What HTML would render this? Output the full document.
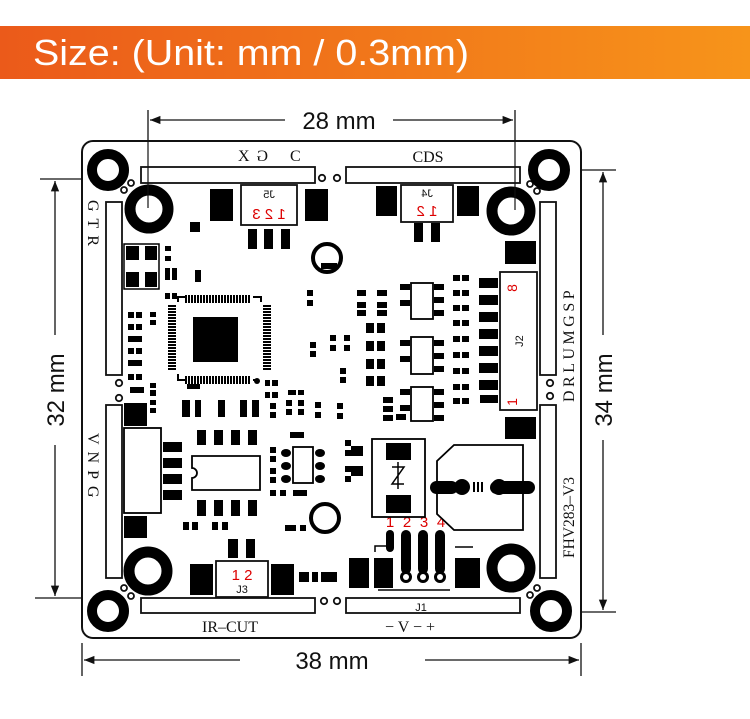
<!DOCTYPE html>
<html><head><meta charset="utf-8"><style>
html,body{margin:0;padding:0;background:#fff;}
svg{display:block}
</style></head><body>
<svg width="750" height="719" viewBox="0 0 750 719" xmlns="http://www.w3.org/2000/svg">
<defs>
<linearGradient id="g" x1="0" x2="1" y1="0" y2="0"><stop offset="0" stop-color="#eb5a1a"/><stop offset="1" stop-color="#f7941a"/></linearGradient>
<marker id="ar" viewBox="0 0 10 10" refX="10" refY="5" markerWidth="8" markerHeight="8" orient="auto-start-reverse"><path d="M0,1 L10,5 L0,9 z" fill="#111"/></marker>
</defs>
<rect x="0" y="26" width="750" height="53" fill="url(#g)"/>
<text x="33" y="65" font-family="Liberation Sans, sans-serif" font-size="36" fill="#fff" textLength="436" lengthAdjust="spacingAndGlyphs">Size: (Unit: mm / 0.3mm)</text>

<g stroke="#111" stroke-width="1.3" fill="none">
<line x1="148" y1="110" x2="148" y2="208"/><line x1="515" y1="110" x2="515" y2="208"/>
<line x1="150" y1="120" x2="285" y2="120" marker-start="url(#ar)"/>
<line x1="393" y1="120" x2="513" y2="120" marker-end="url(#ar)"/>
<line x1="82" y1="643" x2="82" y2="676"/><line x1="581" y1="643" x2="581" y2="676"/>
<line x1="84" y1="660" x2="240" y2="660" marker-start="url(#ar)"/>
<line x1="425" y1="660" x2="579" y2="660" marker-end="url(#ar)"/>
<line x1="40" y1="179" x2="128" y2="179"/><line x1="35" y1="598" x2="130" y2="598"/>
<line x1="55" y1="181" x2="55" y2="335" marker-start="url(#ar)"/>
<line x1="55" y1="445" x2="55" y2="596" marker-end="url(#ar)"/>
<line x1="550" y1="170" x2="616" y2="170"/><line x1="552" y1="612" x2="616" y2="612"/>
<line x1="603" y1="172" x2="603" y2="335" marker-start="url(#ar)"/>
<line x1="603" y1="440" x2="603" y2="610" marker-end="url(#ar)"/>
</g>
<g font-family="Liberation Sans, sans-serif" font-size="24" fill="#111">
<text x="339" y="129" text-anchor="middle">28 mm</text>
<text x="332" y="669" text-anchor="middle">38 mm</text>
<text transform="translate(64,390) rotate(-90)" text-anchor="middle">32 mm</text>
<text transform="translate(612,390) rotate(-90)" text-anchor="middle">34 mm</text>
</g>

<rect x="82" y="141" width="499" height="497" rx="11" fill="#fff" stroke="#111" stroke-width="2"/>

<g fill="#fff" stroke="#111" stroke-width="1.8">
<rect x="141" y="167" width="174" height="16"/><rect x="346" y="167" width="174" height="16"/>
<rect x="106" y="202" width="16" height="173"/><rect x="106" y="405" width="16" height="173"/>
<rect x="540" y="202" width="16" height="173"/><rect x="540" y="405" width="16" height="173"/>
<rect x="141" y="598" width="174" height="15"/><rect x="346" y="598" width="174" height="15"/>
<circle cx="322" cy="178" r="3.2"/><circle cx="337" cy="178" r="3.2"/>
<circle cx="119" cy="383" r="3.2"/><circle cx="119" cy="398" r="3.2"/>
<circle cx="550" cy="383" r="3.2"/><circle cx="550" cy="396" r="3.2"/>
<circle cx="324" cy="601" r="3.2"/><circle cx="337" cy="601" r="3.2"/>
<circle cx="131" cy="183" r="3"/><circle cx="124" cy="190" r="3"/>
<circle cx="530" cy="184" r="3"/><circle cx="537" cy="191" r="3"/>
<circle cx="124" cy="588" r="3"/><circle cx="131" cy="596" r="3"/>
<circle cx="530" cy="595" r="3"/><circle cx="537" cy="588" r="3"/>
</g>

<g fill="#fff" stroke="#000">
<circle cx="108" cy="170" r="16" stroke-width="10"/>
<circle cx="549" cy="170" r="16" stroke-width="10"/>
<circle cx="108" cy="611" r="16" stroke-width="10"/>
<circle cx="551" cy="611" r="16" stroke-width="10"/>
<circle cx="149" cy="209" r="19" stroke-width="11"/>
<circle cx="511" cy="211" r="19" stroke-width="11"/>
<circle cx="148" cy="571" r="19" stroke-width="11"/>
<circle cx="511" cy="568" r="19" stroke-width="11"/>
<circle cx="327" cy="258" r="14" stroke-width="4"/>
<circle cx="325" cy="518" r="14" stroke-width="4"/>
</g>
<g stroke="#111" stroke-width="1.2"><line x1="148" y1="208" x2="148" y2="140"/><line x1="515" y1="210" x2="515" y2="140"/></g>

<g font-family="Liberation Serif, serif" font-size="16" fill="#111">
<text x="238" y="161">X</text><text x="260" y="161" transform="translate(528,0) scale(-1,1)">G</text><text x="290" y="161">C</text>
<text x="428" y="162" text-anchor="middle">CDS</text>
<text x="230" y="632" text-anchor="middle">IR–CUT</text>
<text x="410" y="632" text-anchor="middle">− V − +</text>
<text transform="translate(88,200) rotate(90)" letter-spacing="7">GTR</text>
<text transform="translate(88,433) rotate(90)" letter-spacing="7">VNPG</text>
<text transform="translate(574,402) rotate(-90)" letter-spacing="3.5">DRLUMGSP</text>
<text transform="translate(574,558) rotate(-90)" font-size="15.5">FHV283–V3</text>
</g>

<g fill="#fff" stroke="#111" stroke-width="1.8">
<rect x="241" y="185" width="56" height="40"/>
<rect x="401" y="185" width="52" height="37"/>
<rect x="216" y="561" width="52" height="36"/>
<rect x="500" y="272" width="37" height="138"/>
</g>
<g font-family="Liberation Sans, sans-serif">
<text transform="translate(538,0) scale(-1,1)" x="269" y="198" font-size="11" text-anchor="middle" fill="#111">J5</text>
<text transform="translate(538,0) scale(-1,1)" x="269" y="219" font-size="15" text-anchor="middle" fill="#d00">1 2 3</text>
<text transform="translate(854,0) scale(-1,1)" x="427" y="197" font-size="11" text-anchor="middle" fill="#111">J4</text>
<text transform="translate(854,0) scale(-1,1)" x="427" y="216" font-size="15" text-anchor="middle" fill="#d00">1 2</text>
<text x="242" y="580" font-size="15" text-anchor="middle" fill="#d00">1 2</text>
<text x="242" y="593" font-size="11" text-anchor="middle" fill="#111">J3</text>
<text x="421" y="611" font-size="11" text-anchor="middle" fill="#111">J1</text>
<text transform="translate(523,341) rotate(-90)" font-size="11" text-anchor="middle" fill="#111">J2</text>
<text transform="translate(517,288) rotate(-90)" font-size="14" text-anchor="middle" fill="#d00">8</text>
<text transform="translate(517,402) rotate(-90)" font-size="14" text-anchor="middle" fill="#d00">1</text>
<g font-size="15" fill="#d00" text-anchor="middle"><text x="390" y="527">1</text><text x="407" y="527">2</text><text x="424" y="527">3</text><text x="441" y="527">4</text></g>
</g>

<g fill="#000">
<rect x="210" y="189" width="23" height="32"/><rect x="305" y="189" width="23" height="32"/>
<rect x="248" y="229" width="9" height="20"/><rect x="264" y="229" width="9" height="20"/><rect x="281" y="229" width="9" height="20"/>
<rect x="190" y="222" width="10" height="10"/>
<rect x="376" y="186" width="21" height="30"/><rect x="457" y="186" width="22" height="30"/>
<rect x="414" y="223" width="9" height="19"/><rect x="431" y="223" width="9" height="19"/>
<rect x="505" y="241" width="31" height="23"/><rect x="505" y="417" width="31" height="22"/>
<rect x="124" y="244" width="35" height="45" fill="#fff" stroke="#000" stroke-width="1.5"/>
<rect x="126" y="246" width="13" height="14"/><rect x="145" y="246" width="12" height="14"/>
<rect x="126" y="272" width="13" height="15"/><rect x="145" y="272" width="12" height="15"/>
<rect x="193" y="317" width="45" height="45"/>
<rect x="124" y="403" width="23" height="23"/><rect x="124" y="516" width="23" height="22"/>
<rect x="163" y="442" width="19" height="10"/><rect x="163" y="458" width="19" height="10"/><rect x="163" y="474" width="19" height="10"/><rect x="163" y="490" width="19" height="10"/>
<rect x="197" y="430" width="9" height="15"/><rect x="214" y="430" width="9" height="15"/><rect x="231" y="430" width="9" height="15"/><rect x="248" y="430" width="9" height="15"/>
<rect x="197" y="500" width="9" height="16"/><rect x="214" y="500" width="9" height="16"/><rect x="231" y="500" width="9" height="16"/><rect x="248" y="500" width="9" height="16"/>
<rect x="190" y="564" width="23" height="31"/><rect x="271" y="564" width="23" height="31"/>
<rect x="228" y="539" width="10" height="19"/><rect x="246" y="539" width="9" height="19"/>
<rect x="349" y="558" width="20" height="30"/><rect x="374" y="558" width="19" height="30"/><rect x="455" y="558" width="25" height="30"/>
<rect x="299" y="572" width="10" height="10"/><rect x="312" y="572" width="6" height="10"/><rect x="321" y="572" width="16" height="10"/>
</g>
<g stroke="#000" fill="none" stroke-width="2">
<path d="M178,302 V297 H186 M253,297 H261 V302 M178,374 V380 H186 M253,380 H258"/>
</g>
<g stroke="#000" stroke-width="2">
<path d="M186,292 V300 M189,292 V300 M192,292 V300 M195,292 V300 M198,292 V300 M201,292 V300 M204,292 V300 M207,292 V300 M210,292 V300 M213,292 V300 M216,292 V300 M219,292 V300 M222,292 V300 M225,292 V300 M228,292 V300 M231,292 V300 M234,292 V300 M237,292 V300 M240,292 V300 M243,292 V300 M246,292 V300 M249,292 V300" transform="translate(0,3)"/>
<path d="M186,292 V300 M189,292 V300 M192,292 V300 M195,292 V300 M198,292 V300 M201,292 V300 M204,292 V300 M207,292 V300 M210,292 V300 M213,292 V300 M216,292 V300 M219,292 V300 M222,292 V300 M225,292 V300 M228,292 V300 M231,292 V300 M234,292 V300 M237,292 V300 M240,292 V300 M243,292 V300 M246,292 V300 M249,292 V300" transform="translate(0,84)"/>
<path d="M168,306 H176 M168,309 H176 M168,312 H176 M168,315 H176 M168,318 H176 M168,321 H176 M168,324 H176 M168,327 H176 M168,330 H176 M168,333 H176 M168,336 H176 M168,339 H176 M168,342 H176 M168,345 H176 M168,348 H176 M168,351 H176 M168,354 H176 M168,357 H176 M168,360 H176 M168,363 H176 M168,366 H176 M168,369 H176"/>
<path d="M168,306 H176 M168,309 H176 M168,312 H176 M168,315 H176 M168,318 H176 M168,321 H176 M168,324 H176 M168,327 H176 M168,330 H176 M168,333 H176 M168,336 H176 M168,339 H176 M168,342 H176 M168,345 H176 M168,348 H176 M168,351 H176 M168,354 H176 M168,357 H176 M168,360 H176 M168,363 H176 M168,366 H176 M168,369 H176" transform="translate(95,0)"/>
</g>
<circle cx="257" cy="381" r="3" fill="#000"/>

<g fill="#000">
<rect x="128" y="312" width="6" height="6"/><rect x="136" y="312" width="6" height="6"/>
<rect x="128" y="324" width="6" height="6"/><rect x="136" y="324" width="6" height="6"/>
<rect x="128" y="336" width="14" height="6"/><rect x="128" y="348" width="6" height="6"/><rect x="136" y="348" width="6" height="6"/>
<rect x="128" y="360" width="14" height="6"/><rect x="128" y="374" width="6" height="6"/><rect x="136" y="374" width="6" height="6"/>
<rect x="150" y="312" width="6" height="5"/><rect x="150" y="320" width="6" height="5"/>
<rect x="165" y="293" width="5" height="6"/><rect x="172" y="293" width="5" height="6"/>
<rect x="165" y="246" width="6" height="5"/><rect x="165" y="256" width="6" height="5"/>
<rect x="165" y="268" width="5" height="12"/><rect x="172" y="268" width="5" height="12"/><rect x="195" y="270" width="6" height="12"/>
<rect x="130" y="387" width="14" height="6"/><rect x="150" y="383" width="6" height="5"/><rect x="150" y="390" width="6" height="6"/>
<rect x="182" y="400" width="8" height="17"/><rect x="195" y="400" width="6" height="17"/><rect x="218" y="400" width="7" height="17"/><rect x="240" y="400" width="7" height="17"/><rect x="252" y="400" width="7" height="17"/>
<rect x="150" y="400" width="6" height="5"/><rect x="150" y="408" width="6" height="5"/>
<rect x="187" y="384" width="13" height="5"/>
<rect x="265" y="380" width="5" height="6"/><rect x="272" y="380" width="6" height="6"/><rect x="265" y="392" width="5" height="6"/><rect x="272" y="392" width="6" height="6"/>
<rect x="270" y="403" width="6" height="6"/><rect x="270" y="412" width="6" height="6"/>
<rect x="286" y="400" width="6" height="6"/><rect x="286" y="409" width="6" height="6"/><rect x="298" y="400" width="6" height="6"/><rect x="298" y="409" width="6" height="6"/>
<rect x="288" y="390" width="8" height="5"/><rect x="298" y="390" width="6" height="5"/>
<rect x="315" y="402" width="6" height="6"/><rect x="315" y="412" width="6" height="6"/>
<rect x="307" y="290" width="6" height="6"/><rect x="307" y="300" width="6" height="6"/>
<rect x="310" y="342" width="6" height="6"/><rect x="310" y="351" width="6" height="6"/>
<rect x="330" y="335" width="6" height="6"/><rect x="330" y="345" width="6" height="6"/><rect x="344" y="335" width="6" height="6"/><rect x="344" y="345" width="6" height="6"/>
<rect x="340" y="368" width="6" height="6"/><rect x="340" y="377" width="6" height="6"/>
<rect x="337" y="403" width="6" height="6"/><rect x="337" y="413" width="6" height="6"/>
<rect x="321" y="263" width="16" height="6"/>
<rect x="357" y="290" width="9" height="6"/><rect x="357" y="302" width="9" height="6"/><rect x="357" y="310" width="9" height="6"/>
<rect x="377" y="290" width="10" height="6"/><rect x="377" y="302" width="10" height="6"/><rect x="377" y="310" width="10" height="6"/>
<rect x="366" y="323" width="8" height="10"/><rect x="377" y="323" width="8" height="10"/><rect x="366" y="341" width="8" height="10"/><rect x="377" y="341" width="8" height="10"/>
<rect x="366" y="359" width="8" height="10"/><rect x="377" y="359" width="8" height="10"/><rect x="366" y="376" width="8" height="10"/><rect x="377" y="376" width="8" height="10"/>
<rect x="383" y="397" width="10" height="6"/><rect x="383" y="406" width="10" height="6"/><rect x="383" y="415" width="10" height="6"/>
<rect x="453" y="275" width="7" height="6"/><rect x="462" y="275" width="7" height="6"/>
<rect x="453" y="290" width="7" height="6"/><rect x="462" y="290" width="7" height="6"/>
<rect x="453" y="305" width="7" height="6"/><rect x="462" y="305" width="7" height="6"/>
<rect x="453" y="320" width="7" height="6"/><rect x="462" y="320" width="7" height="6"/>
<rect x="453" y="336" width="7" height="6"/><rect x="462" y="336" width="7" height="6"/>
<rect x="453" y="352" width="7" height="6"/><rect x="462" y="352" width="7" height="6"/>
<rect x="453" y="368" width="7" height="6"/><rect x="462" y="368" width="7" height="6"/>
<rect x="453" y="384" width="7" height="6"/><rect x="462" y="384" width="7" height="6"/>
<rect x="453" y="398" width="7" height="6"/><rect x="462" y="398" width="7" height="6"/>
<rect x="479" y="278" width="19" height="10"/><rect x="479" y="295" width="19" height="10"/><rect x="479" y="312" width="19" height="10"/><rect x="479" y="329" width="19" height="10"/>
<rect x="479" y="346" width="19" height="10"/><rect x="479" y="363" width="19" height="10"/><rect x="479" y="380" width="19" height="10"/><rect x="480" y="395" width="18" height="8"/>
<rect x="400" y="284" width="10" height="6"/><rect x="400" y="300" width="10" height="6"/><rect x="434" y="284" width="10" height="6"/><rect x="434" y="297" width="10" height="6"/><rect x="434" y="310" width="10" height="6"/>
<rect x="400" y="340" width="10" height="6"/><rect x="400" y="356" width="10" height="6"/><rect x="434" y="340" width="10" height="6"/><rect x="434" y="353" width="10" height="6"/><rect x="434" y="366" width="10" height="6"/>
<rect x="400" y="389" width="10" height="6"/><rect x="400" y="405" width="10" height="6"/><rect x="434" y="389" width="10" height="6"/><rect x="434" y="402" width="10" height="6"/><rect x="434" y="415" width="10" height="6"/>
<rect x="396" y="414" width="10" height="6"/>
<rect x="290" y="432" width="14" height="6"/>
<rect x="270" y="447" width="6" height="6"/><rect x="270" y="456" width="6" height="6"/><rect x="270" y="468" width="6" height="6"/><rect x="270" y="477" width="6" height="6"/>
<rect x="270" y="490" width="6" height="6"/><rect x="280" y="490" width="6" height="6"/><rect x="293" y="490" width="14" height="6"/>
<rect x="345" y="440" width="6" height="6"/><rect x="345" y="450" width="6" height="6"/><rect x="345" y="466" width="6" height="6"/><rect x="345" y="476" width="6" height="6"/>
<rect x="351" y="446" width="12" height="10"/><rect x="351" y="466" width="12" height="10"/>
<rect x="183" y="522" width="6" height="8"/><rect x="192" y="522" width="6" height="8"/><rect x="212" y="522" width="6" height="8"/><rect x="222" y="522" width="6" height="8"/>
<rect x="285" y="525" width="11" height="6"/><rect x="300" y="525" width="6" height="6"/>
</g>
<g fill="#fff" stroke="#000" stroke-width="1.8">
<rect x="411" y="283" width="22" height="36"/><rect x="411" y="337" width="22" height="37"/><rect x="411" y="387" width="22" height="34"/>
<path d="M192,456 H260 V490 H192 V478 A5,5 0 0 0 192,468 Z"/>
<rect x="293" y="447" width="20" height="36"/>
<rect x="124" y="428" width="37" height="85"/>
<rect x="372" y="439" width="53" height="78"/>
<path d="M454,445 H523 V530 H454 L437,514 V461 Z"/>
</g>
<g fill="#000">
<rect x="386" y="443" width="25" height="17"/><rect x="386" y="495" width="25" height="18"/>
<ellipse cx="286" cy="453" rx="5" ry="4"/><ellipse cx="286" cy="466" rx="5" ry="4"/><ellipse cx="286" cy="479" rx="5" ry="4"/>
<ellipse cx="320" cy="453" rx="5" ry="4"/><ellipse cx="320" cy="466" rx="5" ry="4"/><ellipse cx="320" cy="479" rx="5" ry="4"/>
<rect x="430" y="481" width="28" height="13" rx="6.5"/><rect x="490" y="481" width="45" height="13" rx="6.5"/>
<circle cx="462" cy="487" r="8"/><circle cx="499" cy="487" r="8"/>
<rect x="473" y="482" width="2" height="10"/><rect x="477" y="482" width="2" height="10"/><rect x="481" y="482" width="2" height="10"/>
<rect x="386" y="530" width="8" height="22" rx="4"/>
<rect x="401" y="530" width="10" height="44" rx="5"/><rect x="418" y="530" width="10" height="44" rx="5"/><rect x="435" y="530" width="10" height="44" rx="5"/>
<circle cx="406" cy="577" r="6"/><circle cx="423" cy="577" r="6"/><circle cx="440" cy="577" r="6"/>
</g>
<g fill="#fff"><circle cx="406" cy="577" r="3"/><circle cx="423" cy="577" r="3"/><circle cx="440" cy="577" r="3"/></g>
<g stroke="#000" stroke-width="1.5" fill="none">
<path d="M375,552 V546 H386 M455,547 H473 M378,590 H450"/>
<path d="M392,467 L404,467 L392,484 L404,484 M398,462 V489"/>
</g>
</svg>
</body></html>
